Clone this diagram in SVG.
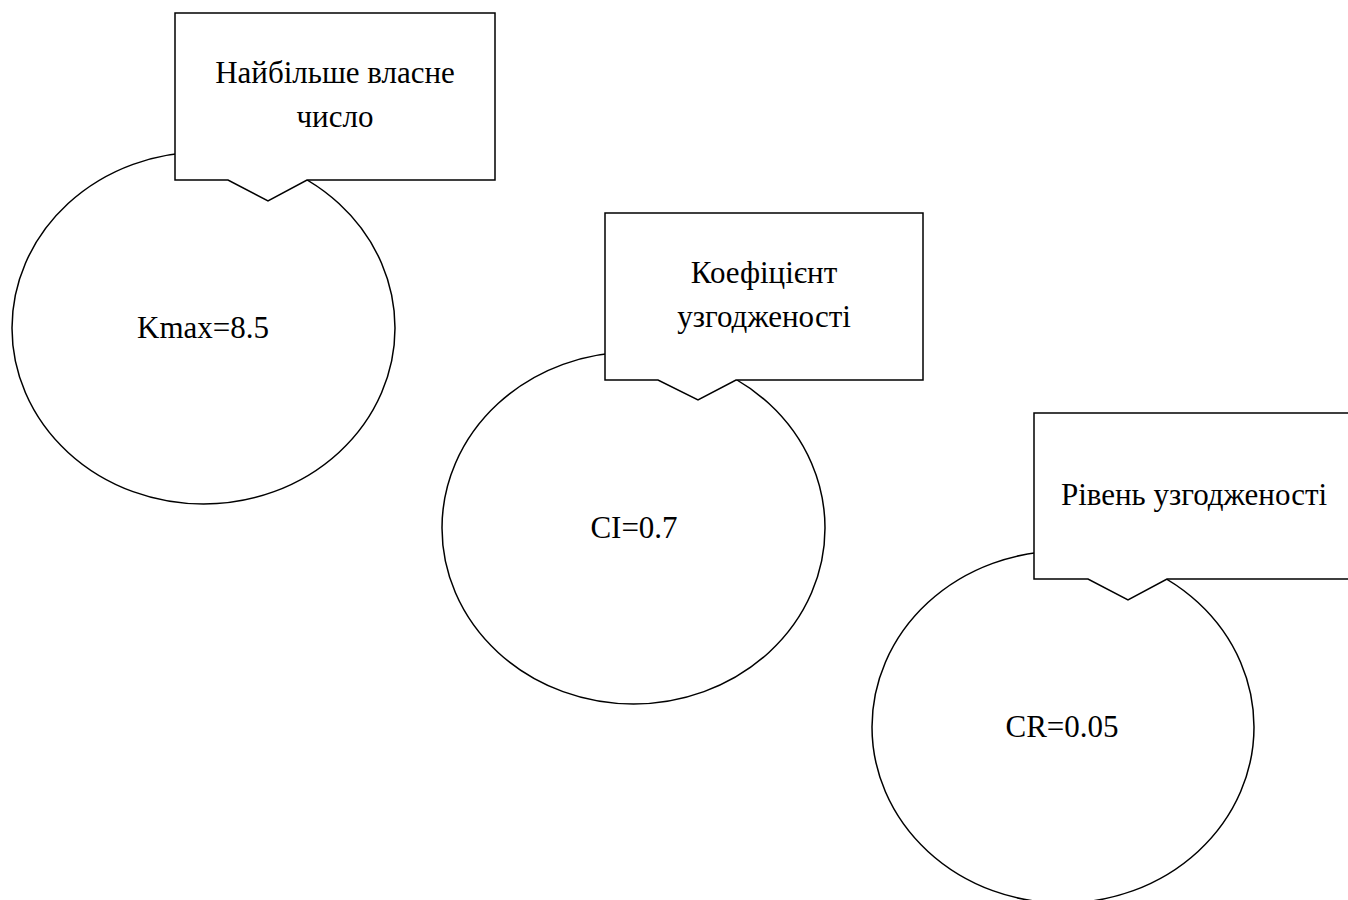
<svg xmlns="http://www.w3.org/2000/svg" width="1348" height="900" viewBox="0 0 1348 900">
<style>
.shape{fill:#fff;stroke:#000;stroke-width:1.5}
.t{font-family:"Liberation Serif","Times New Roman",serif;font-size:31px;fill:#000;text-anchor:middle}
</style>
<rect width="1348" height="900" fill="#fff"/>
<g id="connectors"></g>
<g id="node1">
<ellipse class="shape" cx="203.5" cy="328" rx="191.5" ry="176"/>
<text class="t" x="203" y="338">Kmax=8.5</text>
</g>
<g id="callout1">
<path class="shape" d="M175,13 H495 V180 H307 L268,201 L228,180 H175 Z"/>
<text class="t" x="335" y="83">Найбільше власне</text>
<text class="t" x="335" y="127">число</text>
</g>
<g id="node2">
<ellipse class="shape" cx="633.5" cy="528" rx="191.5" ry="176"/>
<text class="t" x="634" y="538">CI=0.7</text>
</g>
<g id="callout2">
<path class="shape" d="M605,213 H923 V380 H736 L698,400 L658,380 H605 Z"/>
<text class="t" x="764" y="283">Коефіцієнт</text>
<text class="t" x="764" y="327">узгодженості</text>
</g>
<g id="node3">
<ellipse class="shape" cx="1063" cy="727" rx="191" ry="176"/>
<text class="t" x="1062" y="737">CR=0.05</text>
</g>
<g id="callout3">
<path class="shape" d="M1034,413 H1354 V579 H1167 L1128,600 L1088,579 H1034 Z"/>
<text class="t" x="1194" y="505">Рівень узгодженості</text>
</g>
</svg>
